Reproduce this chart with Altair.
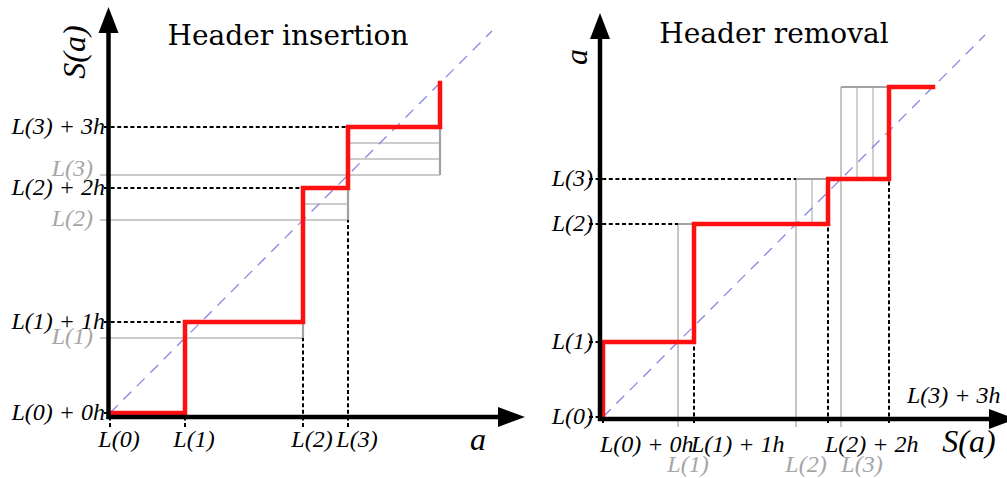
import altair as alt
import pandas as pd

# Chunk boundaries L(0)..L(4) and the header length h (same units on both axes)
L = [0, 75, 193, 238, 330]
H = 16
DIAG_END = 382
K_ALL = [0, 1, 2, 3]
TITLES = ["Header insertion", "Header removal"]

RED = "#ff1010"
GRAY_LONG = "#b8b8b8"
GRAY_EDGE = "#a2a2a2"
GRAY_INNER = "#bcbcbc"
GRAY_TEXT = "#a6a6a6"
BLUE = "#8585e6"
MATH_FONT = "Liberation Serif"
TITLE_FONT = "DejaVu Serif"
MATH_SIZE = 24


def insertion_geometry():
    """Step curve, helper lines and guides in (a, S(a)) coordinates."""
    red = [(L[0], L[0])]
    for k in K_ALL:
        red.append((L[k + 1], L[k] + k * H))
        top = L[k + 1] + (k + 1) * H if k < 3 else L[k + 1]
        red.append((L[k + 1], top))
    gray = []
    for k in K_ALL[1:]:
        gray.append((-10, L[k], L[k + 1], L[k], "long"))
        for j in range(1, k):
            gray.append((L[k], L[k] + j * H, L[k + 1], L[k] + j * H, "inner"))
    for k in K_ALL:
        gray.append((L[k + 1], L[k], L[k + 1], L[k + 1], "edge"))
    dashed = []
    for k in K_ALL:
        dashed.append((-6, L[k] + k * H, L[k], L[k] + k * H))
        dashed.append((L[k], -14, L[k], L[max(k - 1, 0)]))
    return red, gray, dashed


def frames(transpose):
    red, gray, dashed = insertion_geometry()
    if transpose:
        red = [(y, x) for x, y in red]
        gray = [(y, x, y2, x2, t) for x, y, x2, y2, t in gray]
        dashed = [(y, x, y2, x2) for x, y, x2, y2 in dashed]
    red_df = pd.DataFrame(red, columns=["x", "y"])
    red_df["i"] = range(len(red_df))
    gray_df = pd.DataFrame(gray, columns=["x", "y", "x2", "y2", "kind"])
    dash_df = pd.DataFrame(dashed, columns=["x", "y", "x2", "y2"])
    return red_df, gray_df, dash_df


def panel(transpose, width, x_dom, y_dom, axis_x, axis_y, arrow_y_base, arrow_x_base,
          texts, title, title_pos, xlab, xlab_pos, ylab, ylab_pos):
    red_df, gray_df, dash_df = frames(transpose)
    xs = alt.Scale(domain=x_dom, nice=False, zero=False)
    ys = alt.Scale(domain=y_dom, nice=False, zero=False)

    def X(f="x"):
        return alt.X(f"{f}:Q", scale=xs, axis=None)

    def Y(f="y"):
        return alt.Y(f"{f}:Q", scale=ys, axis=None)

    base = alt.Chart(gray_df)
    layers = []
    for kind, col, w in [("long", GRAY_LONG, 1.6), ("inner", GRAY_INNER, 1.4), ("edge", GRAY_EDGE, 2.2)]:
        layers.append(
            base.transform_filter(alt.datum.kind == kind)
            .mark_rule(color=col, strokeWidth=w)
            .encode(x=X(), y=Y(), x2="x2:Q", y2="y2:Q")
        )
    layers.append(
        alt.Chart(dash_df)
        .mark_rule(color="black", strokeWidth=2, strokeDash=[4, 2.6])
        .encode(x=X(), y=Y(), x2="x2:Q", y2="y2:Q")
    )
    diag = pd.DataFrame({"x": [0], "y": [0], "x2": [DIAG_END], "y2": [DIAG_END]})
    layers.append(
        alt.Chart(diag)
        .mark_rule(color=BLUE, strokeWidth=1.3, strokeDash=[11, 8])
        .encode(x=X(), y=Y(), x2="x2:Q", y2="y2:Q")
    )
    layers.append(
        alt.Chart(red_df)
        .mark_line(color=RED, strokeWidth=4.5, strokeJoin="miter", strokeCap="square")
        .encode(x=X(), y=Y(), order="i:Q")
    )
    axes = pd.DataFrame({
        "x": [axis_x, axis_x - 2], "y": [axis_y - 2, axis_y],
        "x2": [axis_x, arrow_x_base], "y2": [arrow_y_base, axis_y],
    })
    layers.append(
        alt.Chart(axes).mark_rule(color="black", strokeWidth=4.5)
        .encode(x=X(), y=Y(), x2="x2:Q", y2="y2:Q")
    )
    up = pd.DataFrame({"x": [axis_x], "y": [arrow_y_base]})
    right = pd.DataFrame({"x": [arrow_x_base], "y": [axis_y]})
    layers.append(
        alt.Chart(up).mark_point(shape="M-1,0L1,0L0,-2.6Z", filled=True, opacity=1,
                                 color="black", size=400, strokeWidth=0, clip=True)
        .encode(x=X(), y=Y())
    )
    layers.append(
        alt.Chart(right).mark_point(shape="M0,-1L0,1L2.7,0Z", filled=True, opacity=1,
                                    color="black", size=400, strokeWidth=0, clip=True)
        .encode(x=X(), y=Y())
    )
    for df, style in texts:
        layers.append(
            alt.Chart(df).mark_text(font=MATH_FONT, fontStyle="italic", baseline="middle",
                                    fontSize=MATH_SIZE, **style)
            .encode(x=X(), y=Y(), text="t:N")
        )
    layers.append(
        alt.Chart(pd.DataFrame({"t": [title]}))
        .mark_text(font=TITLE_FONT, fontSize=28, align="center", baseline="alphabetic", color="black")
        .encode(x=alt.value(title_pos[0]), y=alt.value(title_pos[1]), text="t:N")
    )
    layers.append(
        alt.Chart(pd.DataFrame({"t": [xlab]}))
        .mark_text(font=MATH_FONT, fontStyle="italic", fontSize=32, align="center",
                   baseline="middle", color="black")
        .encode(x=alt.value(xlab_pos[0]), y=alt.value(xlab_pos[1]), text="t:N")
    )
    layers.append(
        alt.Chart(pd.DataFrame({"t": [ylab]}))
        .mark_text(font=MATH_FONT, fontStyle="italic", fontSize=32, align="center",
                   baseline="middle", color="black", angle=270)
        .encode(x=alt.value(ylab_pos[0]), y=alt.value(ylab_pos[1]), text="t:N")
    )
    return alt.layer(*layers).properties(width=width, height=478)


def labels(rows):
    return pd.DataFrame(rows, columns=["x", "y", "t"])


# Header insertion: a on x, S(a) on y
ins_texts = [
    (labels([(0, L[k] + k * H, f"L({k}) + {k}h") for k in K_ALL]),
     dict(align="right", dx=-5, color="black")),
    (labels([(0, L[k], f"L({k})") for k in K_ALL[1:3]]),
     dict(align="right", dx=-17, dy=-1, color=GRAY_TEXT)),
    (labels([(0, L[3], "L(3)")]),
     dict(align="right", dx=-17, dy=-6, color=GRAY_TEXT)),
    (labels([(L[k], 0, f"L({k})") for k in K_ALL]),
     dict(align="center", dx=9, dy=27, color="black")),
]
left = panel(False, 540, [-110, 430], [-65, 413], -1.5, -4, 380, 388,
             ins_texts, TITLES[0], (288, 45), "a", (478, 440), "S(a)", (75, 52))

# Header removal: S(a) on x, a on y
rem_texts = [
    (labels([(0, L[k], f"L({k})") for k in K_ALL]),
     dict(align="right", dx=-10, color="black")),
    (labels([(L[k] + k * H, 0, f"L({k}) + {k}h") for k in K_ALL[:3]]),
     dict(align="left", dx=-3, dy=28, color="black")),
    (labels([(L[3] + 3 * H, 0, "L(3) + 3h")]),
     dict(align="left", dx=18, dy=-21, color="black")),
    (labels([(L[k], 0, f"L({k})") for k in K_ALL[1:3]]),
     dict(align="center", dx=10, dy=48, color=GRAY_TEXT)),
    (labels([(L[3], 0, "L(3)")]),
     dict(align="center", dx=21, dy=48, color=GRAY_TEXT)),
]
right = panel(True, 467, [-63, 404], [-61, 417], -3, -2, 378, 386,
              rem_texts, TITLES[1], (234, 43), "S(a)", (429, 442), "a", (37, 57))

chart = (
    alt.hconcat(left, right, spacing=0, bounds="flush")
    .properties(padding=0, background="white")
    .configure_view(stroke=None)
)

chart.save("out.html", embed_options={"renderer": "svg", "actions": False})
